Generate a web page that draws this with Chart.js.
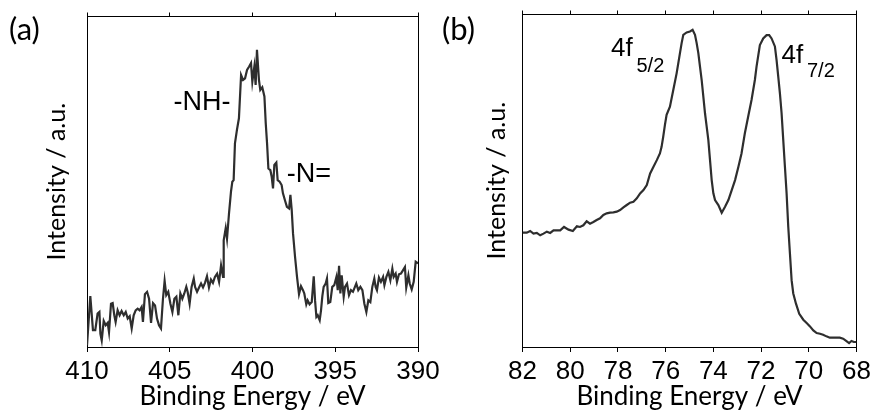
<!DOCTYPE html>
<html>
<head>
<meta charset="utf-8">
<script src="https://cdn.jsdelivr.net/npm/chart.js@4.4.1/dist/chart.umd.min.js"></script>
<style>
  html, body { margin: 0; padding: 0; background: #fff; }
  #wrap { position: relative; width: 873px; height: 414px; overflow: hidden; }
  #chartA { position: absolute; left: 0; top: 0; }
  #chartB { position: absolute; left: 440px; top: 0; }
</style>
</head>
<body>
<div id="wrap">
  <canvas id="chartA" width="440" height="414"></canvas>
  <canvas id="chartB" width="433" height="414"></canvas>
</div>
<script>
// (a) N 1s spectrum - binding energy (eV) and intensity (a.u., 0-100 of frame height)
const energyA = [
  410.00, 409.80, 409.64, 409.50, 409.36, 409.25, 409.19, 409.11, 408.99, 408.87,
  408.75, 408.67, 408.55, 408.45, 408.35, 408.27, 408.15, 408.03, 407.91, 407.78,
  407.66, 407.54, 407.42, 407.30, 407.18, 407.06, 406.94, 406.82, 406.70, 406.62,
  406.50, 406.37, 406.25, 406.13, 406.01, 405.89, 405.77, 405.65, 405.53, 405.41,
  405.31, 405.21, 405.09, 404.96, 404.84, 404.72, 404.60, 404.48, 404.36, 404.24,
  404.12, 404.00, 403.92, 403.80, 403.68, 403.55, 403.47, 403.35, 403.23, 403.11,
  402.99, 402.87, 402.75, 402.63, 402.51, 402.39, 402.27, 402.14, 402.02, 401.90,
  401.78, 401.74, 401.62, 401.54, 401.42, 401.30, 401.22, 401.14, 401.06, 400.94,
  400.82, 400.69, 400.57, 400.45, 400.33, 400.21, 400.09, 400.01, 399.89, 399.81,
  399.73, 399.61, 399.53, 399.41, 399.28, 399.20, 399.12, 399.04, 398.92, 398.84,
  398.76, 398.68, 398.56, 398.48, 398.36, 398.24, 398.16, 398.04, 397.92, 397.79,
  397.71, 397.63, 397.55, 397.43, 397.31, 397.19, 397.07, 396.95, 396.87, 396.75,
  396.67, 396.55, 396.42, 396.30, 396.22, 396.14, 396.06, 395.94, 395.86, 395.78,
  395.70, 395.58, 395.50, 395.42, 395.30, 395.18, 395.06, 394.93, 394.85, 394.77,
  394.69, 394.61, 394.49, 394.41, 394.29, 394.17, 394.05, 393.93, 393.81, 393.73,
  393.61, 393.48, 393.36, 393.24, 393.12, 393.00, 392.88, 392.76, 392.64, 392.56,
  392.48, 392.36, 392.24, 392.11, 392.03, 391.91, 391.79, 391.67, 391.55, 391.47,
  391.35, 391.27, 391.15, 391.03, 390.91, 390.79, 390.71, 390.58, 390.50, 390.38,
  390.26, 390.14, 390.00
];
const intensityA = [
  0.5, 15.4, 5.1, 5.1, 10.1, 10.6, 4.0, 2.0, 7.9, 6.6,
  7.3, 4.5, 13.1, 13.3, 9.6, 7.6, 11.1, 9.6, 10.9, 9.6,
  10.6, 8.6, 9.3, 5.6, 9.6, 11.1, 11.6, 11.1, 12.1, 7.6,
  16.0, 16.7, 14.6, 7.3, 13.3, 12.6, 8.6, 6.6, 5.6, 14.6,
  20.0, 15.7, 16.7, 13.1, 10.6, 14.6, 15.2, 9.6, 16.2, 14.6,
  16.2, 18.2, 16.7, 13.1, 18.2, 20.7, 18.2, 16.7, 18.0, 19.2,
  18.0, 19.4, 21.4, 18.0, 20.4, 19.4, 21.2, 22.2, 19.7, 24.7,
  21.2, 32.3, 35.9, 32.8, 40.4, 47.0, 50.0, 50.5, 61.6, 65.7,
  69.2, 82.3, 80.8, 81.3, 83.8, 84.8, 85.9, 80.3, 84.8, 79.3,
  89.9, 80.8, 77.8, 78.6, 75.8, 67.7, 61.6, 54.0, 53.5, 51.5,
  48.0, 55.1, 55.8, 50.5, 50.0, 49.0, 46.5, 44.4, 42.4, 41.9,
  46.0, 41.4, 34.3, 27.3, 21.2, 16.0, 18.4, 17.2, 16.2, 12.9,
  14.1, 12.9, 13.6, 21.4, 14.1, 9.1, 9.6, 8.1, 11.1, 15.4,
  18.2, 19.2, 20.7, 13.3, 13.6, 18.2, 18.7, 21.2, 17.2, 24.6,
  16.2, 21.7, 15.2, 18.2, 19.2, 15.7, 17.2, 16.7, 18.2, 19.2,
  17.2, 18.2, 17.2, 13.1, 10.6, 14.1, 13.6, 18.2, 20.7, 18.2,
  17.2, 21.0, 19.7, 21.2, 18.7, 21.2, 22.7, 20.2, 23.7, 21.2,
  22.2, 19.7, 22.0, 22.2, 23.2, 24.2, 18.0, 21.7, 19.2, 17.4,
  19.7, 25.8, 25.3
];

// (b) 4f doublet
const energyB = [
  82.00, 81.82, 81.68, 81.54, 81.40, 81.26, 81.12, 80.98, 80.84, 80.70,
  80.56, 80.42, 80.26, 80.07, 79.89, 79.72, 79.59, 79.45, 79.31, 79.17,
  79.03, 78.89, 78.75, 78.61, 78.47, 78.33, 78.19, 78.05, 77.91, 77.77,
  77.63, 77.49, 77.35, 77.21, 77.07, 76.93, 76.79, 76.65, 76.51, 76.37,
  76.24, 76.17, 76.10, 76.03, 75.96, 75.82, 75.68, 75.54, 75.40, 75.33,
  75.26, 75.12, 74.98, 74.87, 74.77, 74.70, 74.63, 74.56, 74.49, 74.42,
  74.35, 74.28, 74.21, 74.14, 74.07, 74.00, 73.93, 73.79, 73.65, 73.51,
  73.37, 73.23, 73.09, 72.95, 72.82, 72.68, 72.54, 72.40, 72.26, 72.19,
  72.05, 71.91, 71.77, 71.66, 71.56, 71.42, 71.35, 71.28, 71.21, 71.14,
  71.07, 71.00, 70.93, 70.86, 70.79, 70.72, 70.65, 70.54, 70.40, 70.23,
  70.09, 69.95, 69.81, 69.67, 69.53, 69.40, 69.26, 69.12, 68.98, 68.84,
  68.70, 68.56, 68.42, 68.31, 68.21, 68.11, 68.00
];
const intensityB = [
  34.4, 34.4, 34.9, 34.1, 34.3, 33.6, 34.1, 34.7, 34.3, 35.1,
  35.1, 35.1, 36.1, 35.3, 34.9, 36.3, 36.1, 36.6, 37.8, 37.1,
  37.6, 38.2, 38.7, 39.7, 40.2, 40.4, 40.5, 40.7, 41.2, 42.0,
  42.7, 43.4, 43.7, 44.7, 46.2, 47.2, 48.7, 52.2, 54.2, 56.2,
  58.2, 60.2, 63.3, 66.8, 69.8, 72.3, 77.3, 82.3, 88.4, 91.4,
  93.9, 94.6, 94.9, 95.4, 93.9, 91.4, 88.4, 84.3, 80.3, 75.3,
  70.3, 66.3, 62.2, 56.2, 50.2, 46.2, 44.2, 42.7, 40.4, 42.2,
  44.2, 47.2, 50.2, 54.2, 58.2, 64.3, 69.3, 74.3, 80.3, 84.3,
  90.8, 92.8, 93.8, 93.8, 92.8, 90.4, 86.3, 81.3, 76.3, 70.3,
  62.2, 54.2, 46.2, 36.1, 28.1, 20.1, 16.1, 13.1, 10.0, 8.2,
  7.2, 6.2, 5.0, 4.2, 4.0, 3.7, 3.2, 2.8, 2.8, 2.8,
  2.8, 2.5, 1.8, 1.2, 1.8, 1.5, 1.5
];

// axis ranges / ticks
const rangeA = [390, 410];
const stepA = 5;
const rangeB = [68, 82];
const stepB = 2;
const xTitle = 'Binding Energy / eV';
const yTitle = 'Intensity / a.u.';

const ink = '#000';
const lineColor = '#2e2e2e';

// draws panel letters and peak labels
const textPlugin = {
  id: 'panelText',
  afterDraw(chart, args, opts) {
    const ctx = chart.ctx;
    ctx.save();
    ctx.fillStyle = ink;
    ctx.textBaseline = 'alphabetic';
    opts.items.forEach(t => {
      ctx.font = t.font;
      ctx.textAlign = t.align || 'left';
      ctx.fillText(t.text, t.x, t.y);
      if (t.sub) {
        ctx.font = t.subFont;
        ctx.textAlign = 'left';
        ctx.fillText(t.sub, t.sx, t.sy);
      }
    });
    ctx.restore();
  }
};

function points(xs, ys) {
  return xs.map((x, i) => ({ x: x, y: ys[i] }));
}

// fixed axis box sizes so both frames land where the figure has them
function fixSize(size) {
  return function(scale) {
    if (scale.isHorizontal()) {
      scale.height = size;
      scale.paddingLeft = 0;
      scale.paddingRight = 0;
    } else {
      scale.width = size;
      scale.paddingTop = 0;
      scale.paddingBottom = 0;
    }
  };
}

function makeChart(id, xs, ys, range, step, box, texts) {
  const ctx = document.getElementById(id).getContext('2d');
  return new Chart(ctx, {
    type: 'line',
    data: {
      datasets: [{
        data: points(xs, ys),
        borderColor: lineColor,
        borderWidth: 2.2,
        pointRadius: 0,
        tension: 0,
        fill: false
      }]
    },
    options: {
      responsive: false,
      animation: false,
      events: [],
      layout: { padding: 0 },
      plugins: {
        legend: { display: false },
        tooltip: { enabled: false },
        panelText: { items: texts }
      },
      scales: {
        x: {
          type: 'linear',
          position: 'bottom',
          reverse: true,
          min: range[0],
          max: range[1],
          afterFit: fixSize(box.bottom),
          grid: { display: true, drawOnChartArea: false, drawTicks: true, tickLength: 5, color: ink },
          border: { display: true, color: ink, width: 1 },
          ticks: {
            stepSize: step,
            color: ink,
            padding: 7,
            maxRotation: 0,
            autoSkip: false,
            font: { family: '"Liberation Sans", Arial, sans-serif', size: 26, lineHeight: 1 }
          },
          title: {
            display: true,
            text: xTitle,
            color: ink,
            padding: { top: 0, bottom: box.xTitlePad },
            font: { family: 'Lato, sans-serif', size: 26, lineHeight: 1 }
          }
        },
        xTop: {
          type: 'linear',
          position: 'top',
          reverse: true,
          min: range[0],
          max: range[1],
          afterFit: fixSize(box.top),
          grid: { display: true, drawOnChartArea: false, drawTicks: true, tickLength: 4, color: ink },
          border: { display: true, color: ink, width: 1 },
          ticks: { stepSize: step, display: false }
        },
        y: {
          type: 'linear',
          position: 'left',
          min: 0,
          max: 100,
          afterFit: fixSize(box.left),
          grid: { display: false },
          border: { display: true, color: ink, width: 1 },
          ticks: { display: false },
          title: {
            display: true,
            text: yTitle,
            color: ink,
            padding: { top: box.yTitlePad, bottom: 0 },
            font: { family: 'Lato, sans-serif', size: 25, lineHeight: 1 }
          }
        },
        yRight: {
          type: 'linear',
          position: 'right',
          min: 0,
          max: 100,
          afterFit: fixSize(box.right),
          grid: { display: false },
          border: { display: true, color: ink, width: 1 },
          ticks: { display: false }
        }
      }
    },
    plugins: [textPlugin]
  });
}

const arial = '"Liberation Sans", Arial, sans-serif';

makeChart('chartA', energyA, intensityA, rangeA, stepA,
  { left: 87, right: 22, top: 16.5, bottom: 67, xTitlePad: 4, yTitlePad: 44 },
  [
    { text: '(a)', font: '31px Lato, sans-serif', x: 9, y: 40 },
    { text: '-NH-', font: '27px ' + arial, x: 202, y: 110, align: 'center' },
    { text: '-N=', font: '27px ' + arial, x: 309, y: 182, align: 'center' }
  ]);

makeChart('chartB', energyB, intensityB, rangeB, stepB,
  { left: 82.5, right: 16.5, top: 14.5, bottom: 67, xTitlePad: 4, yTitlePad: 44 },
  [
    { text: '(b)', font: '31px Lato, sans-serif', x: 2, y: 40 },
    { text: '4f', font: '26px ' + arial, x: 171, y: 56, sub: '5/2', subFont: '20px ' + arial, sx: 196.5, sy: 71.5 },
    { text: '4f', font: '26px ' + arial, x: 341.5, y: 62.5, sub: '7/2', subFont: '20px ' + arial, sx: 367, sy: 77 }
  ]);
</script>
</body>
</html>
